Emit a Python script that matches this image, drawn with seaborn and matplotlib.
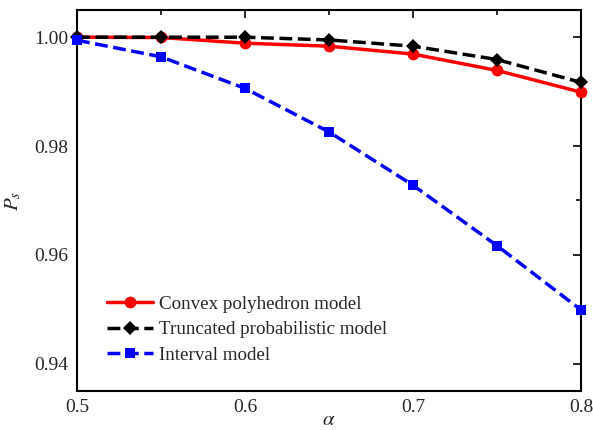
import matplotlib
matplotlib.use("Agg")
import matplotlib.pyplot as plt
import seaborn as sns
import pandas as pd
from matplotlib.ticker import MultipleLocator

alpha = [0.5, 0.55, 0.6, 0.65, 0.7, 0.75, 0.8]
convex = [1.0000, 0.99995, 0.9989, 0.99835, 0.9969, 0.9939, 0.9899]
truncated = [1.0000, 1.0000, 1.0000, 0.9995, 0.99835, 0.9959, 0.9917]
interval = [0.99945, 0.9964, 0.9906, 0.9826, 0.9728, 0.9617, 0.9499]
labels = ["Convex polyhedron model", "Truncated probabilistic model", "Interval model"]

sns.set_style("white")
plt.rcParams['font.family'] = ['Liberation Serif', 'DejaVu Serif']
plt.rcParams['mathtext.fontset'] = 'stix'

fig = plt.figure(figsize=(5.93, 4.30), dpi=100)
ax = fig.add_axes([77/593, 1 - 391/430, (581-77)/593, (391-10)/430])

styles = [
    (convex, "red", "o", "-", 8.5),
    (truncated, "black", "D", "--", 7),
    (interval, "blue", "s", "--", 7.5),
]
for (vals, col, mk, ls, ms), lab in zip(styles, labels):
    df = pd.DataFrame({"alpha": alpha, "Ps": vals})
    sns.lineplot(data=df, x="alpha", y="Ps", ax=ax, color=col, marker=mk,
                 linestyle=ls, linewidth=2.5, markersize=ms, markeredgewidth=0,
                 label=lab, clip_on=False, zorder=3)

ax.set_xlim(0.5, 0.8)
ax.set_ylim(0.935, 1.005)
ax.xaxis.set_major_locator(MultipleLocator(0.1))
ax.xaxis.set_minor_locator(MultipleLocator(0.05))
ax.yaxis.set_major_locator(MultipleLocator(0.02))
ax.yaxis.set_minor_locator(MultipleLocator(0.01))
ax.xaxis.set_major_formatter(matplotlib.ticker.FormatStrFormatter('%.1f'))
ax.yaxis.set_major_formatter(matplotlib.ticker.FormatStrFormatter('%.2f'))
ax.tick_params(which='both', direction='in', top=True, right=True, labelsize=14, color='black')
ax.tick_params(which='major', length=6, width=1.2, pad=6)
ax.tick_params(which='minor', length=3.5, width=1.2)
for s in ax.spines.values():
    s.set_linewidth(1.5)
    s.set_color('black')

ax.set_xlabel(r"$\alpha$", fontsize=15, labelpad=-4)
ax.set_ylabel(r"$P_s$", fontsize=15, labelpad=8)

leg = ax.legend(loc='upper left', bbox_to_anchor=(0.06, 0.25), frameon=False,
                fontsize=13.7, handlelength=2.4, handletextpad=0.3, labelspacing=0.42,
                borderaxespad=0, borderpad=0)

fig.savefig("out.png", dpi=100)
